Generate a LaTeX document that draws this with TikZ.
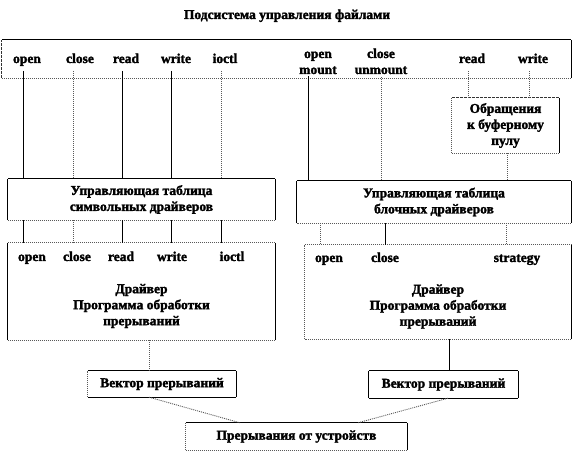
\documentclass[tikz,border=0pt]{standalone}
\usepackage{fontspec}
\setmainfont{Liberation Serif}[BoldFont={Liberation Serif Bold}, BoldFeatures={FakeBold=2}]
\newcommand\frm[5]{%
  \draw[#2] (#1.north west) -- (#1.north east);
  \draw[#3] (#1.north east) -- (#1.south east);
  \draw[#4] (#1.south east) -- (#1.south west);
  \draw[#5] (#1.south west) -- (#1.north west);}
\tikzset{
  txt/.style={font=\fontsize{13.5}{16}\selectfont\bfseries, inner sep=0pt, align=center},
  lab/.style={txt, anchor=base},
  boxn/.style={inner sep=0pt, draw=none, txt},
  fsolid/.style={black, line width=0.8pt},
  fdot/.style={black!65, line width=0.9pt, dash pattern=on 1pt off 1pt},
  fdash/.style={black!80, line width=0.8pt, dash pattern=on 3pt off 1pt},
}
\begin{document}
\begin{tikzpicture}[x=1pt,y=-1pt]
\useasboundingbox (0,0) rectangle (574,454);
% title
\node[lab] (title) at (287,19) {Подсистема управления файлами};
% boxes
\node[boxn, minimum width=569pt, minimum height=38pt] (top) at (286.5,59) {};
\node[boxn, minimum width=267pt, minimum height=41pt] (chartab) at (141.5,199.5) {Управляющая таблица\\символьных драйверов};
\node[boxn, minimum width=274pt, minimum height=42pt] (blocktab) at (434,202) {Управляющая таблица\\блочных драйверов};
\node[boxn, minimum width=107pt, minimum height=55pt] (buf) at (505.5,125.5) {Обращения\\к буферному\\пулу};
\node[boxn, minimum width=267pt, minimum height=97pt] (chardrv) at (141.5,291.5) {};
\node[boxn, minimum width=266pt, minimum height=94pt] (blockdrv) at (438,292) {};
\node[boxn, minimum width=148pt, minimum height=26pt] (vecL) at (162,384) {Вектор прерываний};
\node[boxn, minimum width=149pt, minimum height=27pt] (vecR) at (443.5,384.5) {Вектор прерываний};
\node[boxn, minimum width=221pt, minimum height=27pt] (bottom) at (296.5,436.5) {Прерывания от устройств};
% frames
\frm{top}{fsolid}{fsolid}{fdot}{fdash}
\frm{chartab}{fsolid}{fsolid}{fdot}{fsolid}
\frm{blocktab}{fsolid}{fsolid}{fdot}{fsolid}
\frm{buf}{fdash}{fsolid}{fdot}{fdot}
\frm{chardrv}{fdot}{fsolid}{fdot}{fsolid}
\frm{blockdrv}{fdot}{fsolid}{fdot}{fdot}
\frm{vecL}{fsolid}{fsolid}{fsolid}{fdot}
\frm{vecR}{fsolid}{fsolid}{fsolid}{fsolid}
\frm{bottom}{fsolid}{fsolid}{fdot}{fdot}
% top labels
\node[lab] (t-open) at (27,63) {open};
\node[lab] (t-close) at (80,63) {close};
\node[lab] (t-read) at (126,63) {read};
\node[lab] (t-write) at (176,63) {write};
\node[lab] (t-ioctl) at (225,63) {ioctl};
\node[lab] (t-om) at (318,74) {open\\mount};
\node[lab] (t-cu) at (381,74) {close\\unmount};
\node[lab] (t-bread) at (472,63) {read};
\node[lab] (t-bwrite) at (533,63) {write};
% driver labels
\node[lab] (c-open) at (32,261) {open};
\node[lab] (c-close) at (77,261) {close};
\node[lab] (c-read) at (121,261) {read};
\node[lab] (c-write) at (172,261) {write};
\node[lab] (c-ioctl) at (232,261) {ioctl};
\node[lab] (b-open) at (329,262) {open};
\node[lab] (b-close) at (385,262) {close};
\node[lab] (b-strat) at (517,262) {strategy};
\node[txt] (c-text) at (141.5,306) {Драйвер\\Программа обработки\\прерываний};
\node[txt] (b-text) at (438,306.5) {Драйвер\\Программа обработки\\прерываний};
% line start coordinates
\coordinate (a1) at (23,71);
\coordinate (a2) at (73,71);
\coordinate (a3) at (122,71);
\coordinate (a4) at (171,71);
\coordinate (a5) at (221,71);
\coordinate (b1) at (308,76);
\coordinate (b2) at (381,77);
\coordinate (r1) at (468,71);
\coordinate (r2) at (529,71);
\coordinate (q1) at (507,0);
\coordinate (s1) at (320,0);
\coordinate (s2) at (385,0);
\coordinate (s3) at (506,0);
\coordinate (d1) at (149,0);
\coordinate (d2) at (449,0);
\coordinate (e1) at (240,0);
\coordinate (e2) at (358,0);
\coordinate (d3) at (448,0);
% top box -> char table
\draw[fsolid] (a1) -- (a1 |- chartab.north);
\draw[fdot] (a2) -- (a2 |- chartab.north);
\draw[fsolid] (a3) -- (a3 |- chartab.north);
\draw[fsolid] (a4) -- (a4 |- chartab.north);
\draw[fdot] (a5) -- (a5 |- chartab.north);
% char table -> char driver
\draw[fsolid] (a1 |- chartab.south) -- (a1 |- chardrv.north);
\draw[fdot] (a2 |- chartab.south) -- (a2 |- chardrv.north);
\draw[fsolid] (a3 |- chartab.south) -- (a3 |- chardrv.north);
\draw[fsolid] (a4 |- chartab.south) -- (a4 |- chardrv.north);
\draw[fsolid] (a5 |- chartab.south) -- (a5 |- chardrv.north);
% top box -> block table / buffer
\draw[fsolid] (b1) -- (b1 |- blocktab.north);
\draw[fdot] (b2) -- (b2 |- blocktab.north);
\draw[fdot] (r1) -- (r1 |- buf.north);
\draw[fdot] (r2) -- (r2 |- buf.north);
\draw[fdot] (q1 |- buf.south) -- (q1 |- blocktab.north);
% block table -> block driver
\draw[fdot] (s1 |- blocktab.south) -- (s1 |- blockdrv.north);
\draw[fsolid] (s2 |- blocktab.south) -- (s2 |- blockdrv.north);
\draw[fdot] (s3 |- blocktab.south) -- (s3 |- blockdrv.north);
% drivers -> vectors
\draw[fdot] (d1 |- chardrv.south) -- (d1 |- vecL.north);
\draw[fsolid] (d2 |- blockdrv.south) -- (d2 |- vecR.north);
% vectors -> interrupts
\draw[fdot] (d1 |- vecL.south) -- (e1 |- bottom.north);
\draw[fdot] (d3 |- vecR.south) -- (e2 |- bottom.north);
\end{tikzpicture}
\end{document}
